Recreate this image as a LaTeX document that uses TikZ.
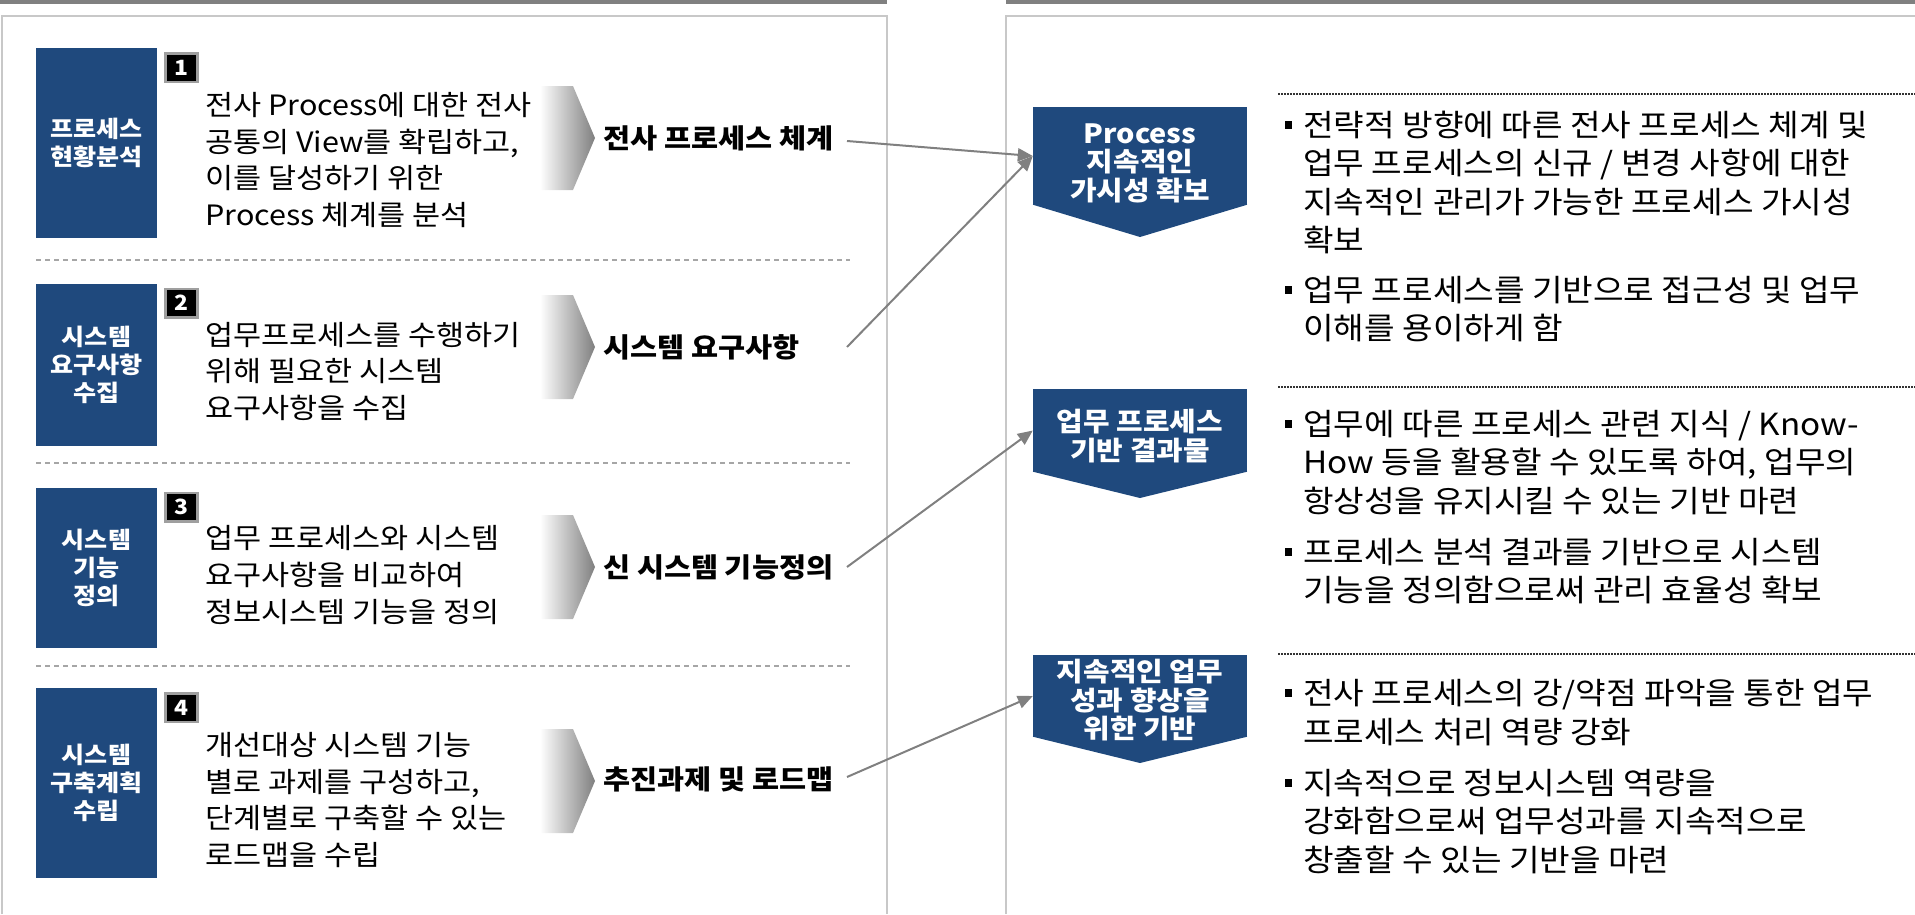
\documentclass[tikz,border=0pt]{standalone}
\usepackage{fontspec}
\setmainfont{Noto Sans CJK KR}[FakeStretch=1.09]
\usetikzlibrary{arrows.meta}
\definecolor{navy}{HTML}{1F497D}
\definecolor{arrgray}{HTML}{808080}
\definecolor{panelgray}{HTML}{C8C8C8}
\definecolor{bargray}{HTML}{808080}
\newcommand\bulsq{\llap{\rule[7.4pt]{7pt}{8pt}\hspace{11pt}}}
\begin{document}
\begin{tikzpicture}[x=1pt,y=-1pt,
  stepbox/.style={fill=navy,text=white,inner sep=0pt,minimum width=121pt,align=center,font=\fontsize{23}{28}\selectfont\bfseries},
  badge/.style={fill=black,draw=gray!75,line width=2.5pt,inner sep=0pt,minimum width=32pt,minimum height=28.5pt,text=white,font=\fontsize{21}{21}\selectfont\bfseries},
  desc/.style={anchor=west,inner sep=0pt,align=left,font=\fontsize{28}{36.7}\selectfont},
  outlbl/.style={anchor=west,inner sep=0pt,font=\fontsize{27}{30}\selectfont\bfseries},
  goalbox/.style={fill=navy,inner sep=0pt,minimum width=214pt},
  goaltxt/.style={inner sep=0pt,align=center,text=white,font=\fontsize{26.5}{28.5}\selectfont\bfseries},
  bullets/.style={anchor=west,inner sep=0pt,align=left,font=\fontsize{30.5}{38.3}\selectfont},
  conn/.style={draw=arrgray,line width=2pt,-{Triangle[length=15pt,width=13pt]}},
  sep/.style={draw=gray!70,line width=1.3pt,dash pattern=on 5pt off 4pt},
  dots/.style={draw=black!80,line width=1.5pt,dash pattern=on 1.5pt off 1.5pt}
]
\useasboundingbox (0,0) rectangle (1915,914);
% top bars and panels
\fill[bargray] (0,0) rectangle (887,3.5);
\fill[bargray] (1006,0) rectangle (1915,3.5);
\draw[panelgray,line width=1.5pt] (2,914) -- (2,16) -- (887,16) -- (887,914);
\draw[panelgray,line width=1.5pt] (1006,914) -- (1006,16) -- (1915,16);

% left steps
\node[stepbox,minimum height=190pt] (box1) at (96.5,143) {프로세스\\현황분석};
\node[stepbox,minimum height=162pt] (box2) at (96.5,365) {시스템\\요구사항\\수집};
\node[stepbox,minimum height=160pt] (box3) at (96.5,568) {시스템\\기능\\정의};
\node[stepbox,minimum height=190pt] (box4) at (96.5,783) {시스템\\구축계획\\수립};

\node[badge] (badge1) at (181.5,67.5) {1};
\node[badge] (badge2) at (181.5,303) {2};
\node[badge] (badge3) at (181.5,507) {3};
\node[badge] (badge4) at (181.5,707.5) {4};

\node[desc] (desc1) at (205,160) {전사 Process에 대한 전사\\공통의 View를 확립하고,\\이를 달성하기 위한\\Process 체계를 분석};
\node[desc] (desc2) at (205,371.5) {업무프로세스를 수행하기\\위해 필요한 시스템\\요구사항을 수집};
\node[desc] (desc3) at (205,575) {업무 프로세스와 시스템\\요구사항을 비교하여\\정보시스템 기능을 정의};
\node[desc] (desc4) at (205,800) {개선대상 시스템 기능\\별로 과제를 구성하고,\\단계별로 구축할 수 있는\\로드맵을 수립};

\foreach \c in {138,347,567,781}{
  \shade[left color=white,right color=black!50] (540,\c-52) -- (573,\c-52) -- (595,\c) -- (573,\c+52) -- (540,\c+52) -- cycle;
}

\node[outlbl] (out1) at (603,138) {전사 프로세스 체계};
\node[outlbl] (out2) at (603,347) {시스템 요구사항};
\node[outlbl] (out3) at (603,567) {신 시스템 기능정의};
\node[outlbl] (out4) at (603,779) {추진과제 및 로드맵};

\draw[sep] (36,260) -- (850,260);
\draw[sep] (36,463) -- (850,463);
\draw[sep] (36,666) -- (850,666);

% right goals
\node[goalbox,minimum height=98pt] (goal1) at (1140,156) {};
\fill[navy] ([yshift=0.5pt]goal1.south west) -- (1140,237) -- ([yshift=0.5pt]goal1.south east) -- cycle;
\node[goalbox,minimum height=83pt] (goal2) at (1140,430.5) {};
\fill[navy] ([yshift=0.5pt]goal2.south west) -- (1140,498) -- ([yshift=0.5pt]goal2.south east) -- cycle;
\node[goalbox,minimum height=82pt] (goal3) at (1140,696) {};
\fill[navy] ([yshift=0.5pt]goal3.south west) -- (1140,763) -- ([yshift=0.5pt]goal3.south east) -- cycle;

\node[goaltxt] (gtxt1) at (1140,163) {Process\\지속적인\\가시성 확보};
\node[goaltxt] (gtxt2) at (1140,436) {업무 프로세스\\기반 결과물};
\node[goaltxt] (gtxt3) at (1140,700.5) {지속적인 업무\\성과 향상을\\위한 기반};

\draw[dots] (1278,94) -- (1915,94);
\draw[dots] (1278,387) -- (1915,387);
\draw[dots] (1278,654) -- (1915,654);

\node[bullets] (b1a) at (1303,182.5) {\bulsq 전략적 방향에 따른 전사 프로세스 체계 및\\업무 프로세스의 신규 / 변경 사항에 대한\\지속적인 관리가 가능한 프로세스 가시성\\확보};
\node[bullets] (b1b) at (1303,309) {\bulsq 업무 프로세스를 기반으로 접근성 및 업무\\이해를 용이하게 함};
\node[bullets] (b2a) at (1303,462.5) {\bulsq 업무에 따른 프로세스 관련 지식 / Know-\\How 등을 활용할 수 있도록 하여, 업무의\\항상성을 유지시킬 수 있는 기반 마련};
\node[bullets] (b2b) at (1303,571) {\bulsq 프로세스 분석 결과를 기반으로 시스템\\기능을 정의함으로써 관리 효율성 확보};
\node[bullets] (b3a) at (1303,712.5) {\bulsq 전사 프로세스의 강/약점 파악을 통한 업무\\프로세스 처리 역량 강화};
\node[bullets] (b3b) at (1303,821.5) {\bulsq 지속적으로 정보시스템 역량을\\강화함으로써 업무성과를 지속적으로\\창출할 수 있는 기반을 마련};

% connectors
\coordinate (s1) at (847,141);
\coordinate (s2) at (847,347);
\coordinate (s3) at (847,567);
\coordinate (s4) at (847,777);
\draw[conn] (s1) -- (goal1.west);
\draw[conn] (s2) -- (goal1.west);
\draw[conn] (s3) -- (goal2.west);
\draw[conn] (s4) -- (goal3.west);
\end{tikzpicture}
\end{document}
